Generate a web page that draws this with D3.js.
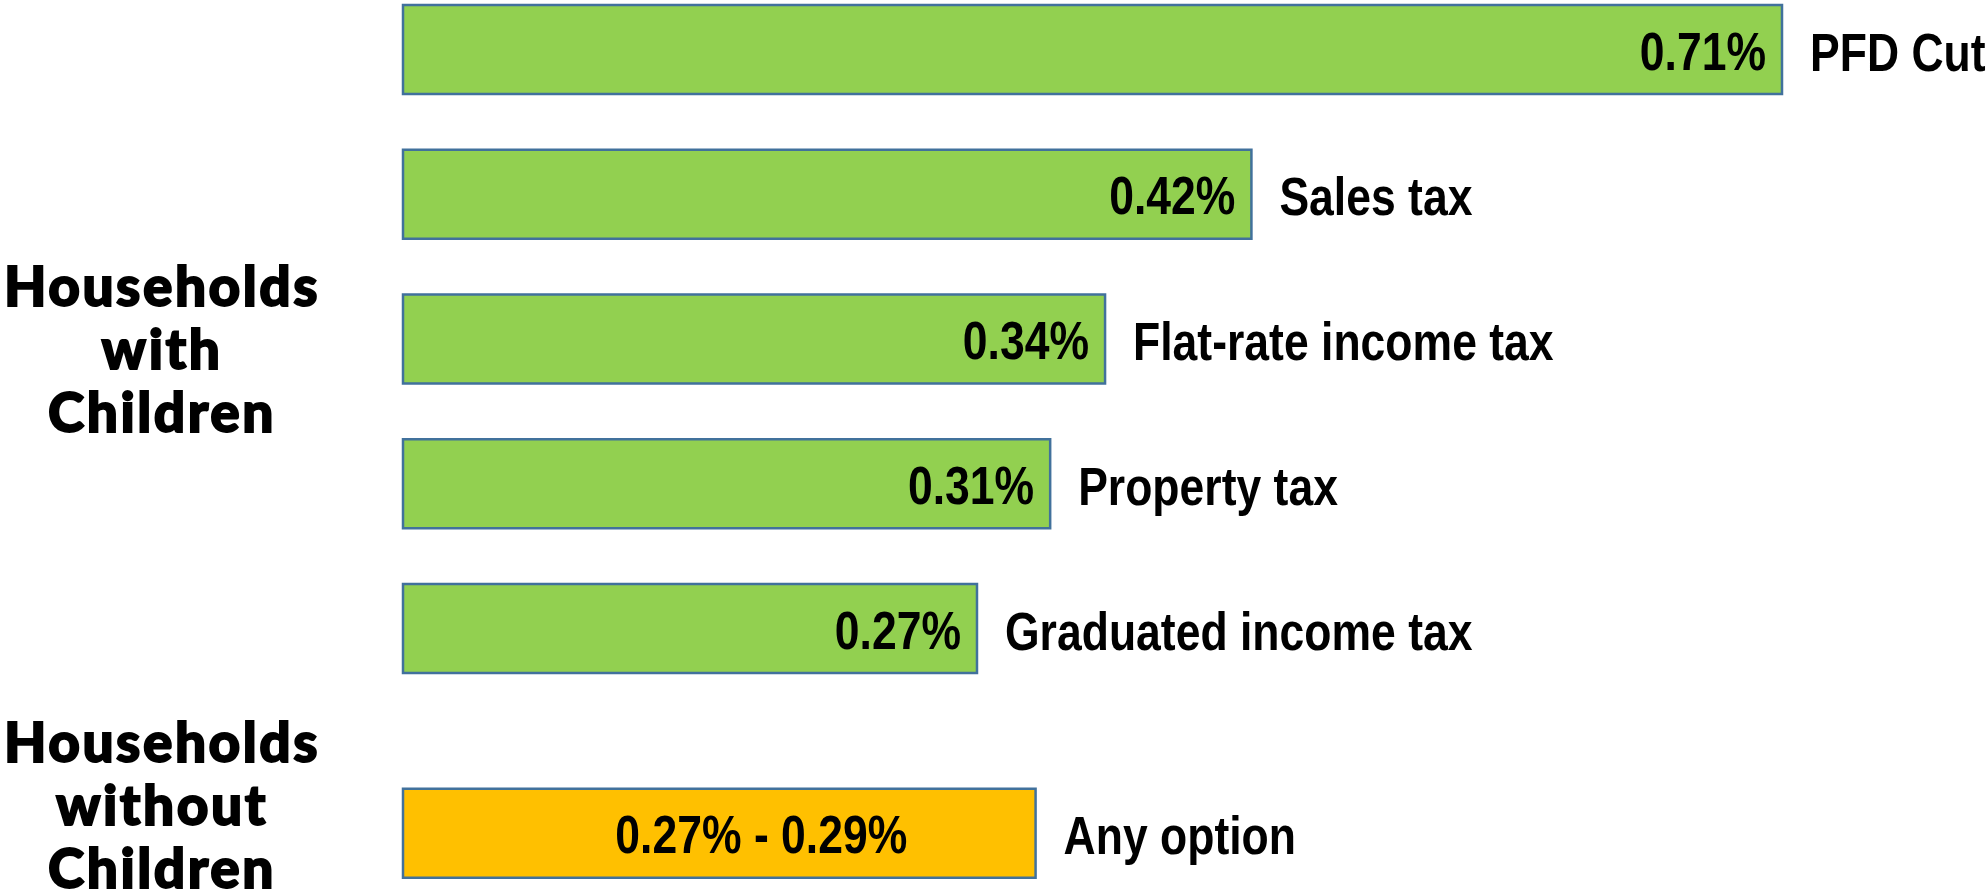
<!DOCTYPE html>
<html>
<head>
    <title>Household impact by option</title>
    <script src="https://cdn.jsdelivr.net/npm/d3@7"></script>
    <style>
        body { margin: 0; background: #fff; }
        #drawingPlace text.value, #drawingPlace text.option {
            font-family: "Liberation Sans", Arial, sans-serif;
            font-weight: bold;
            font-size: 53px;
            fill: #000;
        }
        #drawingPlace text.group {
            font-family: "Lato Black", Lato, "Noto Sans", sans-serif;
            font-weight: 900;
            font-size: 55px;
            letter-spacing: 2.5px;
            fill: #000;
            stroke: #000;
            stroke-width: 1.8px;
        }
    </style>
</head>
<body>
    <svg id="drawingPlace" width="1987" height="894"></svg>
    <script>
        // data
        var options = ["PFD Cut", "Sales tax", "Flat-rate income tax", "Property tax", "Graduated income tax", "Any option"];
        var values = [0.71, 0.42, 0.34, 0.31, 0.27, 0.29];
        var valueLabels = ["0.71%", "0.42%", "0.34%", "0.31%", "0.27%", "0.27% - 0.29%"];
        var groups = ["with", "with", "with", "with", "with", "without"];
        var groupLabels = [["Households", "with", "Children"], ["Households", "without", "Children"]];

        var left = 403;
        var squeeze = 0.84; // narrow the bold sans, closer to the original look

        var svg = d3.select("#drawingPlace");

        var data = options.map(function (d, i) {
            return { option: d, value: values[i], label: valueLabels[i], group: groups[i] };
        });

        //x scale - bars have a small stub at zero
        var x = d3.scaleLinear()
            .domain([0, 0.71])
            .range([80, 1379]);

        //y scale for the bars, second group pushed down
        var step = 144.75, barH = 89, groupGap = 60;
        var y = d3.scaleBand()
            .domain(options)
            .range([5, 5 + options.length * step - (step - barH)])
            .paddingInner((step - barH) / step)
            .paddingOuter(0);
        var yPos = function (d) { return y(d.option) + (d.group == "without" ? groupGap : 0); };
        var barW = function (d) { return x(d.value) + (d.group == "without" ? 22 : 0); };

        var bars = svg.selectAll("g.bar")
            .data(data)
            .enter()
            .append("g")
            .attr("class", "bar");

        bars.append("rect")
            .attr("x", left)
            .attr("y", yPos)
            .attr("width", barW)
            .attr("height", y.bandwidth())
            .style("fill", function (d) { return d.group == "with" ? "#92D050" : "#FFC000"; })
            .style("stroke", "#41719C")
            .style("stroke-width", 2.5);

        //value labels inside bars
        bars.append("text")
            .attr("class", "value")
            .attr("transform", function (d) {
                var tx = d.group == "without" ? left + barW(d) / 2 + 42 : left + barW(d) - 16;
                var ty = yPos(d) + y.bandwidth() / 2 + 20;
                return "translate(" + tx + "," + ty + ") scale(" + squeeze + ",1)";
            })
            .attr("text-anchor", function (d) { return d.group == "without" ? "middle" : "end"; })
            .text(function (d) { return d.label; });

        //option labels right of bars
        bars.append("text")
            .attr("class", "option")
            .attr("transform", function (d) {
                var tx = left + barW(d) + 28;
                var ty = yPos(d) + y.bandwidth() / 2 + 21;
                return "translate(" + tx + "," + ty + ") scale(" + squeeze + ",1)";
            })
            .text(function (d) { return d.option; });

        //group labels on the left
        var groupBase = [306, 762];
        groupLabels.forEach(function (lines, gi) {
            svg.append("text")
                .attr("class", "group")
                .attr("text-anchor", "middle")
                .selectAll("tspan")
                .data(lines)
                .enter()
                .append("tspan")
                .attr("x", 162)
                .attr("y", function (d, i) { return groupBase[gi] + i * 63; })
                .text(function (d) { return d; });
        });
    </script>
</body>
</html>
